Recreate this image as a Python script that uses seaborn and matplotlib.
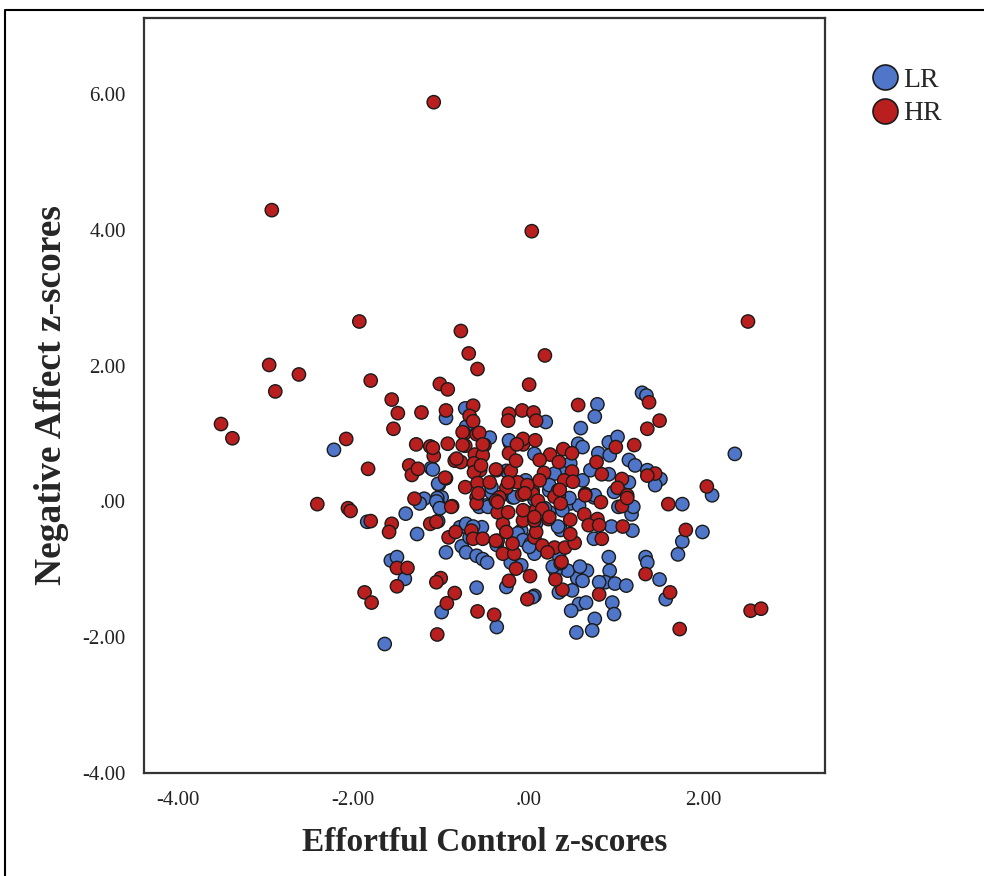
import pandas as pd
import matplotlib
matplotlib.use("Agg")
import matplotlib.pyplot as plt
from matplotlib.lines import Line2D
import seaborn as sns

# Effortful Control (x) and Negative Affect (y) z-scores
ec_lr = [-2.22, -1.84, -0.94, -0.72, -0.71, -0.44, -0.21, -1.11, -1.02, -0.03,
         -0.42, -1.19, -0.99, -1.24, -1.04, -1.02, -1.40, -1.27, -1.03, -0.78,
         -0.71, -0.53, -0.76, -0.71, -0.59, -0.52, -0.47, -0.94, -1.57, -1.50,
         -1.41, -0.99, -0.59, -0.36, -1.64, -0.25, 0.07, -0.20, -0.08, -0.08,
         0.05, -0.48, -0.18, 0.01, -0.67, -0.22, -0.25, -1.09, -1.03, -0.42,
         -0.16, -1.05, -1.01, -0.56, -0.46, 0.01, 0.07, -0.63, -0.12, -0.06,
         0.03, 0.07, -0.36,
         1.30, 1.35, 0.79, 0.76, 0.20, 0.60, 0.57, 0.62, 0.07, 0.48,
         0.39, 0.62, 0.24, 0.92, 1.02, 0.80, 0.93, 1.15, 1.22, 0.71,
         0.92, 1.36, 1.51, 1.45, 1.15, 0.98, 2.36, 2.10, 1.99, 1.76,
         1.76, 1.71, 1.34, 1.36, 1.50, 1.57, 0.92, 0.93, 0.88, 0.99,
         1.12, 0.81, 0.96, 0.98, 0.67, 0.56, 0.62, 0.35, 0.50, 0.58,
         0.49, 0.66, 0.76, 0.73, 0.55, 0.45, 0.31, 0.05, 0.35, 0.01,
         0.37, 0.95, 1.19, 1.18, 0.75, 0.48, 0.75, 0.24, 0.39, 0.58,
         0.30, 0.76, 0.47, 0.24, 0.19, 0.34, 1.20, 1.03, 0.09, 0.59,
         0.28]
na_lr = [0.76, -0.30, 1.23, 1.37, 1.10, 0.94, 0.86, 0.49, 0.25, 0.31,
         0.13, 0.04, 0.06, -0.03, 0.05, -0.06, -0.18, -0.48, -0.29, -0.38,
         -0.33, -0.38, -0.66, -0.75, -0.80, -0.85, -0.90, -0.75, -0.87, -0.82,
         -1.14, -1.63, -1.27, -1.85, -2.10, -1.26, -1.39, -0.90, -0.94, -0.43,
         -0.70, -0.06, 0.06, -0.23, -0.53, 0.90, 0.45, 0.47, 0.26, 0.21,
         0.06, 0.00, -0.10, -0.08, -0.08, -0.17, 0.03, -0.37, -0.47, -0.57,
         -0.62, -0.77, -0.64,
         1.60, 1.56, 1.43, 1.25, 1.17, 1.08, 0.85, 0.80, 0.70, 0.56,
         0.42, 0.31, 0.16, 0.87, 0.95, 0.71, 0.68, 0.61, 0.53, 0.46,
         0.40, 0.46, 0.33, 0.24, 0.28, 0.14, 0.70, 0.09, -0.45, -0.04,
         -0.59, -0.78, -0.82, -0.90, -1.15, -1.44, -0.82, -1.02, -1.19, -1.21,
         -1.24, -1.19, -1.49, -1.66, -1.02, -1.13, -1.17, -1.34, -1.31, -1.51,
         -1.61, -1.49, -1.73, -1.90, -1.93, -1.02, -1.02, -1.41, -0.80, -0.67,
         -0.42, -0.37, -0.43, -0.19, -0.55, -0.03, 0.06, -0.16, -0.13, -0.06,
         0.41, 0.09, 0.05, 0.24, -0.10, -0.37, -0.08, -0.08, -0.32, -0.96,
         -0.96]

ec_hr = [-1.08, -2.93, 0.04, 2.51, -1.93, -2.96, -2.62, -2.89, -3.51, -3.38,
         -2.08, -1.80, -1.83, -2.41, -2.06, -2.03, -1.80, -1.87, -1.79, -0.77,
         -0.68, -0.58, -1.01, -0.92, 0.01, -1.56, -1.49, -1.22, -0.94, -0.63,
         -0.67, -0.63, -1.54, -0.73, -0.59, -0.50, -0.72, -1.28, -1.12, -0.92,
         -1.08, -0.84, -0.77, -1.36, -1.33, -1.26, -0.94, -0.61, -0.52, -0.62,
         -0.55, -0.62, -0.72, -0.58, -0.44, -0.36, -0.25, -0.20, -0.22, -0.14,
         -0.06, -0.22, -0.23, -0.07, 0.06, 0.09, 0.05, -0.12, -1.30, -0.59,
         -0.33, -0.87, -1.56, -1.59, -1.12, -0.91, -0.83, -0.65, -0.63, -0.52,
         -1.50, -1.38, -1.50, -1.00, -1.05, -0.84, -0.93, -0.58, -0.39, -1.04,
         -0.22, 0.02, -0.01, -0.14, -0.29, -0.16, -0.18, -0.35, -0.29, -0.25,
         -0.06, 0.07, -0.35, -0.23, -0.37, -0.07, 0.05, -0.59, -0.06, 0.09,
         -0.75, -0.56, -0.75, -0.52, -1.09, -0.06, 0.08, -0.13, -0.82, -0.54,
         -0.37, -0.95, -0.57, -0.23, -0.01, -0.04, -0.88, -0.35, -1.05, -0.37,
         0.19, 1.38, 0.57, 1.50, 1.36, 0.40, 0.50, 0.25, 0.13, 0.35,
         0.18, 0.50, 0.41, 0.51, 0.13, 0.34, 0.65, 1.00, 0.78, 1.21,
         0.84, 1.45, 1.36, 1.07, 1.02, 1.13, 2.04, 2.54, 2.66, 1.60,
         1.80, 1.34, 1.62, 1.73, 0.81, 0.39, 0.31, 0.37, 0.16, 0.30,
         0.42, 0.53, 0.48, 0.09, 0.07, 0.23, 0.48, 0.64, 0.79, 0.69,
         0.81, 1.08, 1.07, 1.13, 0.84, 0.65, 0.83, 0.35, 0.11, 0.16,
         0.22, 0.24, 0.07, 0.30, 0.36, 0.37, 0.38]
na_hr = [5.88, 4.29, 3.98, 2.65, 2.65, 2.01, 1.87, 1.62, 1.14, 0.93,
         0.92, 1.78, 0.48, -0.04, -0.10, -0.14, -0.29, -1.34, -1.49, 2.51,
         2.18, 1.95, 1.73, 1.65, 1.72, 1.50, 1.30, 1.31, 1.34, 1.41,
         1.26, 1.18, 1.07, 1.00, 0.99, 0.83, 0.82, 0.84, 0.81, 0.85,
         0.67, 0.60, 0.58, 0.53, 0.39, 0.48, 0.34, 0.69, 0.68, 0.56,
         0.46, 0.43, 0.21, 0.27, 0.28, 0.46, 0.20, 0.45, 0.71, 0.60,
         0.84, 1.29, 1.19, 1.34, 1.31, 1.19, 0.16, 0.28, 0.04, 0.06,
         0.06, -0.07, -0.33, -0.45, -0.33, -0.53, -0.45, -0.43, -0.55, -0.55,
         -0.98, -0.98, -1.25, -1.13, -1.19, -1.35, -1.50, -1.62, -1.67, -1.96,
         -1.17, -1.10, -1.44, -0.99, -0.77, -0.77, -0.62, -0.58, -0.33, -0.45,
         -0.28, -0.53, -0.16, -0.16, 0.01, 0.10, 0.11, -0.03, -0.13, -0.13,
         1.02, 1.01, 0.83, 0.84, 0.79, 0.92, 0.90, 0.84, 0.63, 0.53,
         0.47, 0.35, 0.12, 0.28, 0.24, 0.12, -0.08, -0.01, -0.30, -0.58,
         2.15, 1.46, 1.42, 1.19, 1.07, 0.77, 0.71, 0.69, 0.61, 0.58,
         0.42, 0.44, 0.31, 0.29, 0.31, 0.16, 0.11, 0.80, 0.58, 0.83,
         0.40, 0.41, 0.38, 0.33, 0.20, 0.09, 0.22, -1.61, -1.58, -0.04,
         -0.42, -1.07, -1.34, -1.88, -1.37, -1.30, -1.15, -0.91, -0.65, -0.68,
         -0.68, -0.61, -0.48, -0.45, -0.28, -0.26, -0.27, -0.19, -0.26, -0.35,
         -0.35, -0.37, -0.07, 0.05, -0.55, 0.09, -0.01, 0.09, 0.01, -0.11,
         -0.75, -0.23, -0.23, 0.07, 0.17, -0.03, -0.89]

groups = ["LR", "HR"]
colors = {"LR": "#4f76c8", "HR": "#b91f1f"}
xticks = [-4, -2, 0, 2]
xticklabels = ["-4.00", "-2.00", ".00", "2.00"]
yticks = [-4, -2, 0, 2, 4, 6]
yticklabels = ["-4.00", "-2.00", ".00", "2.00", "4.00", "6.00"]


def main():
    df = pd.concat([
        pd.DataFrame({"EC": ec_lr, "NA": na_lr, "group": "LR"}),
        pd.DataFrame({"EC": ec_hr, "NA": na_hr, "group": "HR"}),
    ], ignore_index=True)

    sns.set_style("white")
    plt.rcParams["font.family"] = ["Liberation Serif", "DejaVu Serif"]

    fig = plt.figure(figsize=(9.84, 8.76), dpi=100)
    ax = fig.add_axes([144 / 984, 1 - 773 / 876, 681 / 984, 755 / 876])

    sns.scatterplot(data=df, x="EC", y="NA", hue="group", hue_order=groups,
                    palette=colors, s=92, edgecolor="#1a1a1a", linewidth=1.0,
                    legend=False, ax=ax)

    ax.set_xlim(-4.39, 3.39)
    ax.set_ylim(-4.0, 7.12)
    ax.set_xticks(xticks, xticklabels)
    ax.set_yticks(yticks, yticklabels)
    ax.tick_params(direction="out", length=8, width=1.3, labelsize=15,
                   colors="#222222", pad=5)
    for sp in ax.spines.values():
        sp.set_visible(True)
        sp.set_color("#333333")
        sp.set_linewidth(1.6)

    ax.set_xlabel("Effortful Control z-scores", fontsize=24, fontweight="bold",
                  labelpad=12)
    ax.set_ylabel("Negative Affect z-scores", fontsize=27, fontweight="bold",
                  labelpad=10)

    handles = [Line2D([], [], marker="o", linestyle="", markersize=18,
                      markerfacecolor=colors[g], markeredgecolor="#1a1a1a",
                      markeredgewidth=1.2) for g in groups]
    ax.legend(handles, groups, loc="upper left", bbox_to_anchor=(0.86, 0.936),
              bbox_transform=fig.transFigure, frameon=False, fontsize=20,
              handletextpad=-0.35, labelspacing=0.3, borderaxespad=0)

    # outer frame of the original image
    fig.add_artist(Line2D([5 / 984, 5 / 984, 1], [0, 1 - 10 / 876, 1 - 10 / 876],
                          transform=fig.transFigure, color="black", lw=1.5))

    fig.savefig("out.png", dpi=100)
    plt.close(fig)


if __name__ == "__main__":
    main()
